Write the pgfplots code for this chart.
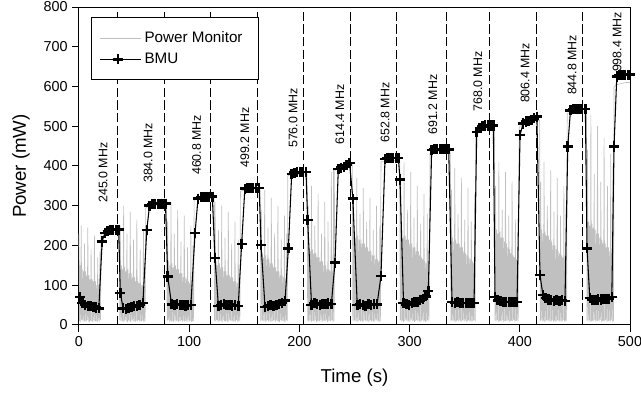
\documentclass[border=0pt]{standalone}
\usepackage{pgfplots}
\pgfplotsset{compat=1.18}
\usepackage{fontspec}
\setmainfont{Liberation Sans}
\definecolor{pmgray}{RGB}{192,192,192}
\pgfplotsset{mylegend/.style={legend image code/.code={\path (0pt,0pt) -- (31pt,0pt);\draw[mark repeat=2,mark phase=2,##1] plot coordinates {(0pt,0pt) (13.5pt,0pt) (27pt,0pt)};}}}
\begin{document}
\begin{tikzpicture}
\begin{axis}[
  scale only axis, width=413.25pt, height=238.5pt,
  xmin=0, xmax=500, ymin=0, ymax=800,
  xtick={0,100,...,500}, ytick={0,100,...,800},
  tick pos=left, tick align=outside, major tick length=5pt,
  axis line style={line width=0.75pt}, tick style={line width=0.75pt, black},
  /pgf/number format/assume math mode=true,
  ticklabel style={font=\fontsize{10.8}{12}\selectfont},
  label style={font=\fontsize{14}{16}\selectfont},
  xlabel={Time (s)}, ylabel={Power (mW)},
  xlabel style={at={(axis description cs:0.5,-0.1667)}, anchor=center},
  ylabel style={at={(axis description cs:-0.1053,0.5)}, anchor=center, rotate=0},
  clip=false,
  mylegend,
  legend style={at={(0.0218,0.9686)}, anchor=north west, draw=black, line width=0.75pt, fill=white,
    font=\fontsize{11.4}{13}\selectfont, inner xsep=6pt, inner ysep=8.5pt, row sep=2.5pt},
  legend cell align=left,
]
% Power monitor (gray)
\addplot[pmgray, line width=0.5pt] coordinates {
(0,230)(0.5,10)(1,150)(1.5,8)(2,250)(2.5,12)(3,140)(3.5,9)(4,135)(4.5,11)(5,205)(5.5,8)(6,135)(6.5,10)(7,125)(7.5,12)(8,245)(8.5,9)(9,125)(9.5,8)(10,115)(10.5,11)(11,190)(11.5,10)(12,115)(12.5,8)(13,110)(13.5,12)(14,225)(14.5,9)(15,110)(15.5,10)(16,100)(16.5,8)(17,170)(17.5,11)(18,100)(18.5,9)(19,185)(19.5,12)
(20,226)(21,229)(23,231)(26,232)(29,232)(32,233)(35,233)(36.5,233)
(37,12)(37.5,250)(38,9)(38.5,150)(39,11)(39.5,140)(40,8)(40.5,300)(41,10)(41.5,145)(42,12)(42.5,135)(43,9)(43.5,230)(44,8)(44.5,140)(45,11)(45.5,130)(46,10)(46.5,285)(47,8)(47.5,130)(48,12)(48.5,120)(49,9)(49.5,215)(50,10)(50.5,120)(51,8)(51.5,110)(52,11)(52.5,265)(53,9)(53.5,110)(54,12)(54.5,105)(55,8)(55.5,190)(56,10)(56.5,100)(57,9)(57.5,100)(58,11)(58.5,240)(59,8)(59.5,95)(60,10)
(60.5,294)(62,297)(65,298)(68,299)(71,300)(74,300)(77,300)(79.5,300)
(80,10)(80.5,260)(81,12)(81.5,160)(82,8)(82.5,150)(83,11)(83.5,310)(84,9)(84.5,155)(85,10)(85.5,145)(86,8)(86.5,230)(87,12)(87.5,150)(88,9)(88.5,140)(89,11)(89.5,290)(90,8)(90.5,140)(91,10)(91.5,130)(92,9)(92.5,210)(93,12)(93.5,130)(94,8)(94.5,120)(95,11)(95.5,275)(96,9)(96.5,120)(97,10)(97.5,115)(98,8)(98.5,195)(99,12)(99.5,110)(100,9)(100.5,105)(101,11)(101.5,250)(102,8)(102.5,105)(103,10)(103.5,200)(104,9)
(104.5,314)(106,316)(109,318)(112,318)(115,319)(118,319)(121,319)(122.5,319)
(123,11)(123.5,310)(124,9)(124.5,160)(125,12)(125.5,150)(126,8)(126.5,240)(127,10)(127.5,155)(128,11)(128.5,145)(129,9)(129.5,300)(130,8)(130.5,145)(131,12)(131.5,135)(132,10)(132.5,220)(133,9)(133.5,135)(134,11)(134.5,125)(135,8)(135.5,285)(136,10)(136.5,125)(137,12)(137.5,120)(138,9)(138.5,205)(139,11)(139.5,120)(140,8)(140.5,110)(141,10)(141.5,260)(142,9)(142.5,110)(143,12)(143.5,105)(144,8)(144.5,215)(145,11)(145.5,105)(146,10)
(146.5,336)(148,338)(151,339)(154,340)(157,340)(160,340)(163,340)(164.5,340)
(165,10)(165.5,290)(166,12)(166.5,180)(167,9)(167.5,170)(168,11)(168.5,340)(169,8)(169.5,175)(170,10)(170.5,165)(171,12)(171.5,245)(172,9)(172.5,165)(173,11)(173.5,155)(174,8)(174.5,320)(175,10)(175.5,155)(176,9)(176.5,145)(177,12)(177.5,230)(178,8)(178.5,145)(179,11)(179.5,135)(180,10)(180.5,300)(181,9)(181.5,135)(182,8)(182.5,125)(183,12)(183.5,215)(184,10)(184.5,125)(185,11)(185.5,120)(186,9)(186.5,275)(187,8)(187.5,115)(188,12)(188.5,230)(189,10)
(189.5,375)(191,377)(194,378)(197,379)(200,380)(203,380)(206,380)(207,380)
(207.5,11)(208,300)(208.5,9)(209,195)(209.5,12)(210,185)(210.5,8)(211,350)(211.5,10)(212,190)(212.5,11)(213,180)(213.5,9)(214,250)(214.5,12)(215,180)(215.5,8)(216,170)(216.5,10)(217,330)(217.5,11)(218,170)(218.5,9)(219,160)(219.5,12)(220,230)(220.5,8)(221,160)(221.5,10)(222,150)(222.5,11)(223,310)(223.5,9)(224,150)(224.5,12)(225,140)(225.5,8)(226,260)(226.5,10)(227,140)(227.5,11)(228,135)(228.5,9)(229,385)(229.5,12)(230,135)(230.5,8)(231,395)(231.5,10)
(232,388)(234,392)(237,395)(240,397)(243,400)(246,403)(248,404)
(248.5,10)(249,330)(249.5,12)(250,230)(250.5,9)(251,220)(251.5,11)(252,370)(252.5,8)(253,225)(253.5,10)(254,215)(254.5,12)(255,280)(255.5,9)(256,215)(256.5,11)(257,205)(257.5,8)(258,345)(258.5,10)(259,205)(259.5,12)(260,195)(260.5,9)(261,260)(261.5,11)(262,195)(262.5,8)(263,185)(263.5,10)(264,320)(264.5,12)(265,185)(265.5,9)(266,175)(266.5,11)(267,240)(267.5,8)(268,175)(268.5,10)(269,165)(269.5,12)(270,300)(270.5,9)(271,165)(271.5,11)(272,160)(272.5,8)(273,250)(273.5,10)
(274,410)(276,412)(279,413)(282,414)(285,414)(288,414)(291,414)
(291.5,12)(292,360)(292.5,9)(293,230)(293.5,11)(294,220)(294.5,8)(295,410)(295.5,10)(296,225)(296.5,12)(297,215)(297.5,9)(298,290)(298.5,11)(299,215)(299.5,8)(300,205)(300.5,10)(301,385)(301.5,12)(302,205)(302.5,9)(303,195)(303.5,11)(304,270)(304.5,8)(305,195)(305.5,10)(306,185)(306.5,12)(307,350)(307.5,9)(308,185)(308.5,11)(309,175)(309.5,8)(310,255)(310.5,10)(311,170)(311.5,12)(312,165)(312.5,9)(313,330)(313.5,11)(314,160)(314.5,8)(315,155)(315.5,10)(316,280)(316.5,12)(317,150)(317.5,9)(318,150)
(318.5,432)(320,434)(323,435)(326,436)(329,436)(332,436)(335,436)(337,436)
(337.5,10)(338,340)(338.5,12)(339,220)(339.5,9)(340,210)(340.5,11)(341,395)(341.5,8)(342,215)(342.5,10)(343,205)(343.5,12)(344,280)(344.5,9)(345,205)(345.5,11)(346,195)(346.5,8)(347,370)(347.5,10)(348,195)(348.5,12)(349,185)(349.5,9)(350,265)(350.5,11)(351,180)(351.5,8)(352,175)(352.5,10)(353,345)(353.5,12)(354,170)(354.5,9)(355,165)(355.5,11)(356,260)(356.5,8)(357,160)(357.5,10)(358,155)(358.5,12)(359,330)(359.5,9)
(360,486)(362,489)(365,490)(368,491)(371,491)(374,491)(377,491)
(377.5,11)(378,350)(378.5,9)(379,240)(379.5,12)(380,230)(380.5,8)(381,410)(381.5,10)(382,235)(382.5,11)(383,220)(383.5,9)(384,290)(384.5,12)(385,220)(385.5,8)(386,210)(386.5,10)(387,385)(387.5,11)(388,205)(388.5,9)(389,195)(389.5,12)(390,275)(390.5,8)(391,190)(391.5,10)(392,180)(392.5,11)(393,360)(393.5,9)(394,175)(394.5,12)(395,170)(395.5,8)(396,265)(396.5,10)(397,165)(397.5,11)(398,160)(398.5,9)(399,340)
(399.5,498)(401,501)(404,505)(407,508)(410,510)(413,512)(416,514)(418,515)
(418.5,10)(419,360)(419.5,12)(420,240)(420.5,9)(421,230)(421.5,11)(422,410)(422.5,8)(423,235)(423.5,10)(424,225)(424.5,12)(425,300)(425.5,9)(426,225)(426.5,11)(427,215)(427.5,8)(428,390)(428.5,10)(429,210)(429.5,12)(430,200)(430.5,9)(431,285)(431.5,11)(432,200)(432.5,8)(433,190)(433.5,10)(434,370)(434.5,12)(435,185)(435.5,9)(436,180)(436.5,11)(437,275)(437.5,8)(438,175)(438.5,10)(439,170)(439.5,12)(440,350)(440.5,9)(441,165)(441.5,11)(442,300)(442.5,10)
(443,532)(445,534)(448,535)(451,536)(454,536)(457,536)(460.5,536)
(461,11)(461.5,440)(462,9)(462.5,260)(463,12)(463.5,250)(464,8)(464.5,530)(465,10)(465.5,255)(466,11)(466.5,245)(467,9)(467.5,380)(468,12)(468.5,240)(469,8)(469.5,230)(470,10)(470.5,500)(471,11)(471.5,230)(472,9)(472.5,220)(473,12)(473.5,360)(474,8)(474.5,215)(475,10)(475.5,205)(476,11)(476.5,470)(477,9)(477.5,205)(478,12)(478.5,195)(479,8)(479.5,350)(480,10)(480.5,195)(481,11)(481.5,185)(482,9)(482.5,430)(483,12)(483.5,180)(484,8)(484.5,400)(485,10)
(485.5,598)(487,603)(490,606)(493,608)(496,610)(499,610)(500,610)
};
\addlegendentry{Power Monitor\hspace*{4pt}}
% frequency change markers
\addplot[black, line width=0.6pt, dash pattern=on 7pt off 2.5pt, ycomb, forget plot] coordinates {
(35.1,800)(77.4,800)(119.3,800)(161.5,800)(203.5,800)(246.3,800)(288.2,800)(333.6,800)(372.4,800)(415.1,800)(457.0,800)
};
% BMU
\addplot[black, line width=0.8pt, mark=+, mark size=3.8pt, mark options={line width=1.9pt, solid}] coordinates {
(1,70)(3,55)(5.5,50)(8,48)(10.5,47)(13,46)(15.5,44)(18,42)(21,210)(23.5,232)(26,237)(28.5,239)(31,240)(33.5,240)(36,240)(37.5,81)
(40,42)(42.5,40)(45,42)(47.5,45)(50,47)(52.5,48)(55,50)(58,55)(61.5,239)(64,300)(66.5,304)(69,305)(71.5,305)(74,305)(76.5,305)(78.5,305)(80.5,122)
(84,52)(86.5,50)(89,52)(91.5,50)(94,50)(96.5,49)(99,50)(101.5,50)(105.3,231)(108,318)(110.5,321)(113,322)(115.5,323)(118,323)(121,323)(123.4,168)
(126.5,48)(129,50)(131.5,52)(134,50)(136.5,51)(139,49)(141.5,50)(144.5,48)(147.6,204)(150.5,343)(153,345)(155.5,345)(158,345)(160.5,345)(163.5,345)(165.2,201)
(168.8,45)(171.5,48)(174,50)(176.5,47)(179,50)(181.5,52)(184,55)(187,61)(190,193)(193,380)(195.5,383)(198,384)(200.5,385)(203,385)(206,385)(207.5,264)
(211,50)(213.5,55)(216,52)(218.5,50)(221,53)(223.5,52)(226,54)(229,53)(232.3,157)(235.3,392)(237.8,396)(240.3,398)(242.8,402)(245.5,408)(248.5,318)
(252.5,50)(255,52)(257.5,50)(260,48)(262.5,52)(265,50)(267.5,53)(270.5,52)(274,123)(277.7,418)(280,420)(282.5,420)(285,420)(287.5,420)(289.8,420)(291.3,366)
(294.5,55)(297,52)(299.5,50)(302,55)(304.5,57)(307,58)(309.5,62)(312,66)(314.5,72)(317,86)(320,440)(322.5,442)(325,442)(327.5,442)(330,442)(332.5,442)(335.5,442)
(338.5,58)(341,55)(343.5,57)(346,55)(348.5,55)(351,55)(353.5,55)(356,55)(358.5,55)(360.9,486)(363.5,495)(366,500)(368.5,502)(371,502)(373.5,502)(376,502)(377.5,71)
(380,62)(382.5,60)(385,58)(387.5,58)(390,58)(392.5,58)(395,58)(397.5,58)(400.2,478)(403,507)(405.5,512)(408,514)(410.5,516)(413,520)(415.5,524)(418.3,126)
(421,75)(423.5,68)(426,64)(428.5,62)(431,60)(433.5,62)(436,60)(438.5,62)(441,60)(443.5,449)(446,540)(448.5,543)(451,543)(453.5,543)(456,543)(459.5,543)(461,193)
(463.5,68)(466,63)(468.5,62)(471,64)(473.5,64)(476,66)(478.5,66)(481,66)(483.5,70)(485.5,449)(488,625)(490.5,629)(493,630)(495.5,630)(498,630)(500,630)
};
\addlegendentry{BMU}
\begin{scope}[every node/.style={rotate=90, anchor=west, inner sep=0pt, font=\fontsize{9.3}{11}\selectfont}]
\node at (axis cs:21.8,307) {245.0 MHz};
\node at (axis cs:62.6,357) {384.0 MHz};
\node at (axis cs:106.8,377) {460.8 MHz};
\node at (axis cs:150.6,395) {499.2 MHz};
\node at (axis cs:194.2,445) {576.0 MHz};
\node at (axis cs:236.8,453) {614.4 MHz};
\node at (axis cs:277.7,458) {652.8 MHz};
\node at (axis cs:321.2,478) {691.2 MHz};
\node at (axis cs:362,536) {768.0 MHz};
\node at (axis cs:404.7,558) {806.4 MHz};
\node at (axis cs:447.4,578) {844.8 MHz};
\node at (axis cs:488.2,636) {998.4 MHz};
\end{scope}
\end{axis}
\pgfresetboundingbox
\path ([shift={(-59.25pt,-57pt)}]current axis.south west) rectangle ([shift={(8.25pt,5.25pt)}]current axis.north east);
\end{tikzpicture}
\end{document}
